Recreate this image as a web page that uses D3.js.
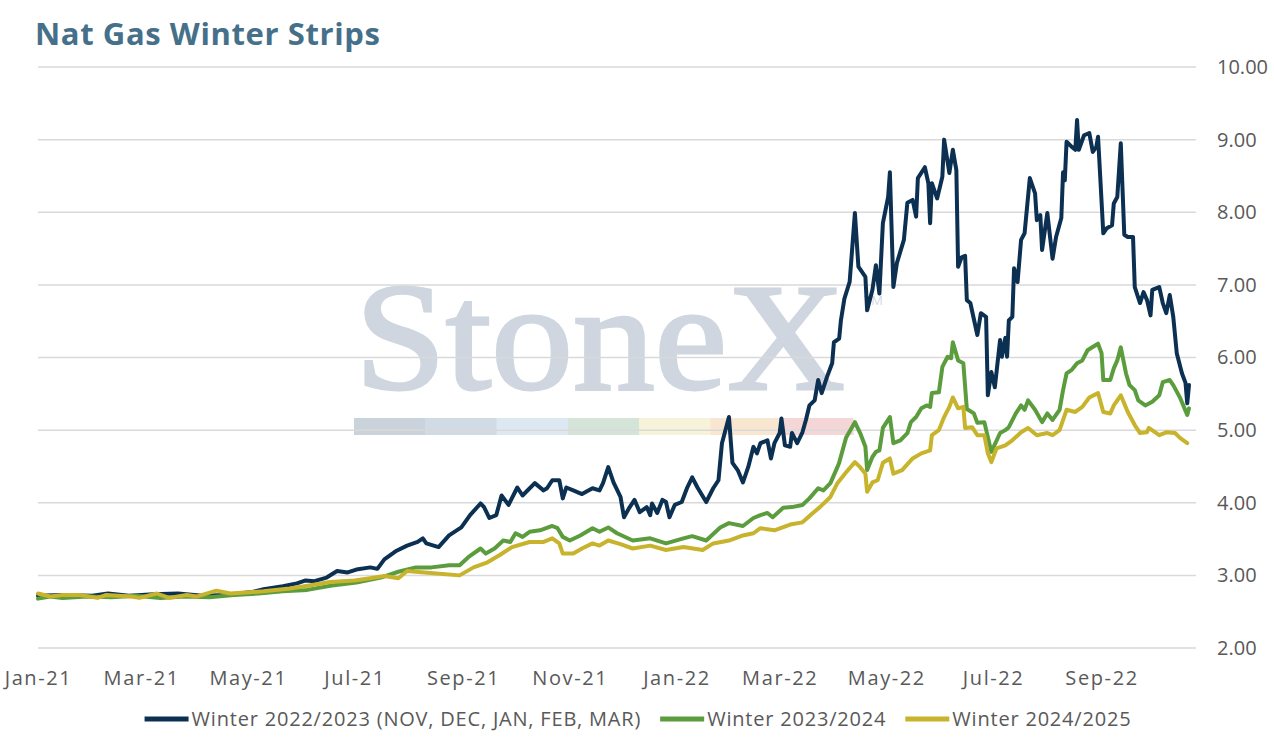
<!DOCTYPE html>
<html>
<head>
<meta charset="utf-8">
<script src="https://cdn.jsdelivr.net/npm/d3@7"></script>
<style>
    html, body { margin: 0; padding: 0; background: #fff; }
    svg { display: block; font-family: "Open Sans", sans-serif; }
</style>
</head>
<body>
<svg id="chart" width="1274" height="739"></svg>
<script>

// Chart data

const seriesNames = [
    "Winter 2022/2023 (NOV, DEC, JAN, FEB, MAR)",
    "Winter 2023/2024",
    "Winter 2024/2025"
];

const yTicks = [2, 3, 4, 5, 6, 7, 8, 9, 10];

const winter2223 = [
    ["2021-01-01",2.72],["2021-01-15",2.73],["2021-02-01",2.72],["2021-02-10",2.75],["2021-02-22",2.72],
    ["2021-03-08",2.74],["2021-03-22",2.75],["2021-04-05",2.72],["2021-04-19",2.73],["2021-05-03",2.77],
    ["2021-05-10",2.81],["2021-05-21",2.85],["2021-05-29",2.89],["2021-06-03",2.93],["2021-06-08",2.92],
    ["2021-06-15",2.97],["2021-06-21",3.06],["2021-06-27",3.04],["2021-07-02",3.08],["2021-07-10",3.11],
    ["2021-07-14",3.09],["2021-07-18",3.22],["2021-07-25",3.34],["2021-07-31",3.41],["2021-08-06",3.46],
    ["2021-08-09",3.51],["2021-08-11",3.44],["2021-08-18",3.39],["2021-08-24",3.55],["2021-08-31",3.66],
    ["2021-09-05",3.83],["2021-09-11",3.99],["2021-09-13",3.94],["2021-09-16",3.79],["2021-09-20",3.83],
    ["2021-09-23",4.10],["2021-09-27",3.97],["2021-10-02",4.21],["2021-10-05",4.10],["2021-10-12",4.27],
    ["2021-10-17",4.17],["2021-10-19",4.20],["2021-10-22",4.31],["2021-10-26",4.31],["2021-10-28",4.06],
    ["2021-10-30",4.21],["2021-11-03",4.17],["2021-11-08",4.12],["2021-11-14",4.20],["2021-11-18",4.17],
    ["2021-11-20",4.27],["2021-11-23",4.49],["2021-11-26",4.28],["2021-11-30",4.08],["2021-12-02",3.80],
    ["2021-12-05",3.93],["2021-12-08",4.04],["2021-12-11",3.87],["2021-12-15",3.94],["2021-12-17",3.83],
    ["2021-12-18",3.99],["2021-12-21",3.86],["2021-12-24",4.04],["2021-12-26",4.01],["2021-12-28",3.80],
    ["2021-12-31",3.97],["2022-01-04",4.01],["2022-01-07",4.20],["2022-01-10",4.35],["2022-01-13",4.21],
    ["2022-01-18",4.01],["2022-01-22",4.20],["2022-01-25",4.31],["2022-01-27",4.82],["2022-01-31",5.18],
    ["2022-02-02",4.55],["2022-02-05",4.45],["2022-02-08",4.28],["2022-02-11",4.49],["2022-02-14",4.77],
    ["2022-02-16",4.68],["2022-02-18",4.82],["2022-02-22",4.86],["2022-02-24",4.61],["2022-02-26",4.82],
    ["2022-03-01",4.96],["2022-03-02",5.16],["2022-03-04",4.79],["2022-03-07",4.77],["2022-03-08",4.96],
    ["2022-03-11",4.82],["2022-03-14",4.97],["2022-03-16",5.14],["2022-03-18",5.34],["2022-03-21",5.41],
    ["2022-03-23",5.69],["2022-03-25",5.51],["2022-03-28",5.73],["2022-03-31",5.92],["2022-04-01",6.21],
    ["2022-04-04",6.26],["2022-04-05",6.51],["2022-04-07",6.81],["2022-04-10",7.04],["2022-04-13",7.99],
    ["2022-04-15",7.25],["2022-04-19",7.11],["2022-04-20",6.65],["2022-04-23",6.93],["2022-04-25",7.27],
    ["2022-04-27",6.88],["2022-04-29",7.85],["2022-05-02",8.21],["2022-05-03",8.55],["2022-05-05",6.97],
    ["2022-05-07",7.30],["2022-05-11",7.62],["2022-05-13",8.13],["2022-05-16",8.17],["2022-05-18",7.94],
    ["2022-05-19",8.47],["2022-05-23",8.62],["2022-05-25",8.40],["2022-05-26",7.85],["2022-05-27",8.40],
    ["2022-05-30",8.19],["2022-06-02",8.49],["2022-06-03",9.00],["2022-06-06",8.54],["2022-06-08",8.86],
    ["2022-06-10",8.58],["2022-06-11",7.25],["2022-06-13",7.38],["2022-06-15",7.40],["2022-06-16",6.79],
    ["2022-06-18",6.75],["2022-06-22",6.31],["2022-06-24",6.61],["2022-06-27",6.56],["2022-06-28",5.48],
    ["2022-06-30",5.80],["2022-07-02",5.59],["2022-07-05",6.24],["2022-07-06",6.01],["2022-07-08",6.27],
    ["2022-07-09",6.01],["2022-07-10",6.51],["2022-07-12",6.56],["2022-07-13",7.23],["2022-07-15",7.04],
    ["2022-07-17",7.62],["2022-07-19",7.71],["2022-07-22",8.47],["2022-07-25",8.26],["2022-07-26",7.89],
    ["2022-07-28",7.96],["2022-07-29",7.48],["2022-08-01",7.99],["2022-08-04",7.36],["2022-08-06",7.66],
    ["2022-08-09",7.92],["2022-08-10",8.55],["2022-08-11",8.44],["2022-08-12",8.97],["2022-08-15",8.90],
    ["2022-08-17",8.86],["2022-08-18",9.27],["2022-08-19",8.86],["2022-08-22",9.06],["2022-08-25",9.09],
    ["2022-08-27",8.83],["2022-08-29",8.90],["2022-08-30",9.04],["2022-09-02",7.71],["2022-09-04",7.78],
    ["2022-09-07",7.82],["2022-09-08",8.12],["2022-09-10",8.21],["2022-09-12",8.95],["2022-09-14",7.69],
    ["2022-09-16",7.66],["2022-09-19",7.66],["2022-09-20",6.97],["2022-09-23",6.75],["2022-09-25",6.90],
    ["2022-09-27",6.79],["2022-09-29",6.58],["2022-09-30",6.93],["2022-10-04",6.97],["2022-10-06",6.75],
    ["2022-10-08",6.61],["2022-10-10",6.86],["2022-10-12",6.56],["2022-10-14",6.06],["2022-10-17",5.78],
    ["2022-10-19",5.65],["2022-10-20",5.37],["2022-10-21",5.62]
];

const winter2324 = [
    ["2021-01-01",2.68],["2021-01-08",2.71],["2021-01-15",2.69],["2021-01-29",2.71],["2021-02-12",2.70],
    ["2021-02-26",2.72],["2021-03-12",2.69],["2021-03-26",2.71],["2021-04-09",2.70],["2021-04-23",2.73],
    ["2021-05-07",2.75],["2021-05-21",2.78],["2021-06-04",2.80],["2021-06-18",2.86],["2021-07-02",2.90],
    ["2021-07-16",2.97],["2021-07-26",3.05],["2021-08-05",3.11],["2021-08-14",3.11],["2021-08-24",3.14],
    ["2021-08-30",3.14],["2021-09-04",3.25],["2021-09-11",3.37],["2021-09-14",3.30],["2021-09-19",3.37],
    ["2021-09-24",3.48],["2021-09-28",3.46],["2021-10-01",3.58],["2021-10-05",3.53],["2021-10-09",3.60],
    ["2021-10-15",3.62],["2021-10-22",3.68],["2021-10-25",3.65],["2021-10-28",3.53],["2021-11-01",3.48],
    ["2021-11-07",3.55],["2021-11-14",3.65],["2021-11-18",3.60],["2021-11-23",3.66],["2021-11-28",3.58],
    ["2021-12-07",3.48],["2021-12-17",3.51],["2021-12-26",3.44],["2022-01-05",3.51],["2022-01-10",3.54],
    ["2022-01-18",3.48],["2022-01-26",3.66],["2022-01-31",3.72],["2022-02-08",3.68],["2022-02-14",3.79],
    ["2022-02-18",3.83],["2022-02-22",3.86],["2022-02-25",3.80],["2022-03-03",3.93],["2022-03-08",3.94],
    ["2022-03-14",3.97],["2022-03-18",4.06],["2022-03-23",4.20],["2022-03-26",4.17],["2022-03-30",4.27],
    ["2022-04-03",4.49],["2022-04-04",4.55],["2022-04-08",4.90],["2022-04-13",5.11],["2022-04-16",4.96],
    ["2022-04-19",4.77],["2022-04-20",4.45],["2022-04-23",4.63],["2022-04-25",4.70],["2022-04-27",4.72],
    ["2022-04-29",5.03],["2022-05-03",5.18],["2022-05-05",4.82],["2022-05-09",4.86],["2022-05-13",4.96],
    ["2022-05-15",5.11],["2022-05-18",5.18],["2022-05-21",5.30],["2022-05-24",5.34],["2022-05-26",5.32],
    ["2022-05-27",5.51],["2022-05-31",5.52],["2022-06-02",5.87],["2022-06-05",6.01],["2022-06-07",5.99],
    ["2022-06-08",6.21],["2022-06-11",5.96],["2022-06-14",5.92],["2022-06-16",5.29],["2022-06-20",5.23],
    ["2022-06-22",5.10],["2022-06-26",5.11],["2022-06-30",4.70],["2022-07-05",4.96],["2022-07-08",5.00],
    ["2022-07-10",5.04],["2022-07-14",5.23],["2022-07-17",5.34],["2022-07-19",5.28],["2022-07-21",5.41],
    ["2022-07-25",5.28],["2022-07-29",5.11],["2022-08-01",5.23],["2022-08-04",5.14],["2022-08-08",5.28],
    ["2022-08-10",5.55],["2022-08-12",5.78],["2022-08-15",5.83],["2022-08-18",5.92],["2022-08-21",5.96],
    ["2022-08-24",6.10],["2022-08-26",6.13],["2022-08-30",6.19],["2022-09-01",6.06],["2022-09-02",5.69],
    ["2022-09-06",5.69],["2022-09-08",5.85],["2022-09-10",5.96],["2022-09-12",6.14],["2022-09-15",5.78],
    ["2022-09-17",5.62],["2022-09-20",5.55],["2022-09-22",5.41],["2022-09-26",5.34],["2022-09-30",5.39],
    ["2022-10-04",5.48],["2022-10-06",5.66],["2022-10-10",5.69],["2022-10-12",5.62],["2022-10-16",5.44],
    ["2022-10-20",5.21],["2022-10-21",5.30]
];

const winter2425 = [
    ["2021-01-01",2.75],["2021-01-08",2.71],["2021-01-15",2.73],["2021-01-25",2.73],["2021-02-04",2.69],
    ["2021-02-09",2.73],["2021-02-23",2.71],["2021-02-28",2.69],["2021-03-10",2.75],["2021-03-17",2.69],
    ["2021-03-27",2.73],["2021-04-02",2.71],["2021-04-13",2.79],["2021-04-21",2.75],["2021-05-10",2.78],
    ["2021-05-25",2.82],["2021-06-05",2.86],["2021-06-17",2.91],["2021-07-01",2.93],["2021-07-10",2.96],
    ["2021-07-18",2.99],["2021-07-26",2.96],["2021-07-31",3.06],["2021-08-15",3.03],["2021-08-30",3.00],
    ["2021-09-07",3.11],["2021-09-15",3.18],["2021-09-22",3.28],["2021-09-29",3.39],["2021-10-09",3.46],
    ["2021-10-17",3.46],["2021-10-22",3.51],["2021-10-26",3.44],["2021-10-28",3.30],["2021-11-03",3.30],
    ["2021-11-08",3.37],["2021-11-14",3.44],["2021-11-18",3.41],["2021-11-23",3.48],["2021-11-30",3.43],
    ["2021-12-07",3.37],["2021-12-17",3.41],["2021-12-26",3.35],["2022-01-05",3.39],["2022-01-16",3.35],
    ["2022-01-22",3.44],["2022-01-31",3.48],["2022-02-08",3.55],["2022-02-14",3.58],["2022-02-18",3.65],
    ["2022-02-26",3.62],["2022-03-07",3.70],["2022-03-14",3.73],["2022-03-20",3.86],["2022-03-24",3.94],
    ["2022-03-30",4.08],["2022-04-03",4.27],["2022-04-08",4.42],["2022-04-13",4.56],["2022-04-16",4.49],
    ["2022-04-19",4.40],["2022-04-20",4.15],["2022-04-23",4.28],["2022-04-26",4.31],["2022-04-29",4.55],
    ["2022-05-03",4.61],["2022-05-05",4.40],["2022-05-10",4.45],["2022-05-16",4.61],["2022-05-21",4.68],
    ["2022-05-26",4.72],["2022-05-27",4.93],["2022-05-31",5.00],["2022-06-03",5.18],["2022-06-06",5.32],
    ["2022-06-08",5.45],["2022-06-11",5.30],["2022-06-14",5.32],["2022-06-15",5.03],["2022-06-19",5.04],
    ["2022-06-22",4.93],["2022-06-26",4.93],["2022-06-28",4.68],["2022-06-30",4.56],["2022-07-03",4.75],
    ["2022-07-08",4.79],["2022-07-12",4.86],["2022-07-17",4.97],["2022-07-21",5.03],["2022-07-26",4.93],
    ["2022-08-01",4.96],["2022-08-04",4.93],["2022-08-08",5.00],["2022-08-12",5.28],["2022-08-17",5.25],
    ["2022-08-21",5.32],["2022-08-25",5.45],["2022-08-30",5.51],["2022-09-02",5.25],["2022-09-06",5.23],
    ["2022-09-08",5.34],["2022-09-12",5.48],["2022-09-16",5.25],["2022-09-20",5.07],["2022-09-23",4.96],
    ["2022-09-27",4.97],["2022-09-28",5.03],["2022-10-04",4.93],["2022-10-08",4.97],["2022-10-13",4.96],
    ["2022-10-16",4.89],["2022-10-20",4.82]
];

// Watermark colour bar segments
const brandBarColors = ["#cad2dc", "#d0dbe6", "#dde9f2", "#d5e4d9", "#f7f3da", "#f9e6d0", "#f4d6d6"];

//
// Layout
//

const svg = d3.select("#chart");
const seriesColors = ["#0c3052", "#5b9c3d", "#c8b32d"];
const parseDate = d3.timeParse("%Y-%m-%d");

const plot = { left: 38, right: 1196, top: 67, bottom: 648 };

const x = d3.scaleTime()
    .domain([parseDate("2021-01-01"), parseDate("2022-10-25")])
    .range([plot.left, plot.right]);

const y = d3.scaleLinear()
    .domain([2, 10])
    .range([plot.bottom, plot.top]);

// Title
svg.append("text")
    .attr("x", 35)
    .attr("y", 45)
    .attr("fill", "#46708a")
    .attr("font-size", 31)
    .attr("font-weight", 700)
    .attr("letter-spacing", 0.6)
    .text("Nat Gas Winter Strips");

// Watermark (behind the grid)
const mark = svg.append("g").attr("class", "watermark");
mark.append("text")
    .attr("x", 355)
    .attr("y", 389)
    .attr("font-family", "'Liberation Serif', 'DejaVu Serif', serif")
    .attr("font-size", 153)
    .attr("textLength", 490)
    .attr("lengthAdjust", "spacingAndGlyphs")
    .attr("fill", "#cfd6df")
    .attr("stroke", "#cfd6df")
    .attr("stroke-width", 3)
    .text("StoneX");
mark.append("text")
    .attr("x", 864)
    .attr("y", 305)
    .attr("font-size", 13)
    .attr("fill", "#d3d8de")
    .text("TM");

const barX = d3.scaleBand()
    .domain(d3.range(brandBarColors.length))
    .range([354, 853]);
mark.selectAll("rect")
    .data(brandBarColors)
    .join("rect")
        .attr("x", (d, i) => barX(i))
        .attr("y", 418)
        .attr("width", barX.bandwidth() + 0.5)
        .attr("height", 17)
        .attr("fill", d => d);

// Gridlines
svg.append("g")
    .selectAll("line")
    .data(yTicks)
    .join("line")
        .attr("x1", plot.left)
        .attr("x2", plot.right)
        .attr("y1", d => y(d))
        .attr("y2", d => y(d))
        .attr("stroke", "#d9d9d9")
        .attr("stroke-width", 1.5);

// Y axis labels on the right (left aligned, as in the original)
const yAxis = svg.append("g")
    .attr("transform", `translate(1217,0)`)
    .call(d3.axisRight(y).tickValues(yTicks).tickFormat(d3.format(".2f")).tickSize(0).tickPadding(0));
yAxis.select(".domain").remove();
yAxis.selectAll("text")
    .attr("text-anchor", "start")
    .attr("fill", "#595959")
    .attr("font-size", 20)
    .attr("font-family", "'Open Sans', sans-serif");

// X axis labels
const xAxis = svg.append("g")
    .attr("transform", `translate(0,${plot.bottom + 23})`)
    .call(d3.axisBottom(x)
        .tickValues(d3.timeMonth.every(2).range(parseDate("2021-01-01"), parseDate("2022-10-01")))
        .tickFormat(d3.timeFormat("%b-%y"))
        .tickSize(0)
        .tickPadding(0));
xAxis.select(".domain").remove();
xAxis.selectAll("text")
    .attr("fill", "#595959")
    .attr("font-size", 20)
    .attr("letter-spacing", 1.6)
    .attr("font-family", "'Open Sans', sans-serif");

// Series lines
const line = d3.line()
    .x(d => x(parseDate(d[0])))
    .y(d => y(d[1]));

const allSeries = [winter2223, winter2324, winter2425];
svg.append("g")
    .selectAll("path")
    .data(allSeries)
    .join("path")
        .attr("d", line)
        .attr("fill", "none")
        .attr("stroke", (d, i) => seriesColors[i])
        .attr("stroke-width", 4)
        .attr("stroke-linejoin", "round")
        .attr("stroke-linecap", "round");

// Legend, centred under the plot
const legend = svg.append("g").attr("transform", "translate(0,719)");
const items = legend.selectAll("g")
    .data(seriesNames)
    .join("g");
items.append("line")
    .attr("x1", 0).attr("x2", 44)
    .attr("stroke", (d, i) => seriesColors[i])
    .attr("stroke-width", 5);
items.append("text")
    .attr("x", 47)
    .attr("dy", "0.35em")
    .attr("fill", "#595959")
    .attr("font-size", 20)
    .attr("letter-spacing", 0.8)
    .text(d => d);

let widths = [];
items.each(function() {
    widths.push(47 + d3.select(this).select("text").node().getComputedTextLength());
});
const gap = 19;
const total = d3.sum(widths) + gap * (widths.length - 1);
let cursor = 638 - total / 2;
items.attr("transform", (d, i) => {
    let pos = cursor;
    cursor += widths[i] + gap;
    return `translate(${pos},0)`;
});

</script>
</body>
</html>
